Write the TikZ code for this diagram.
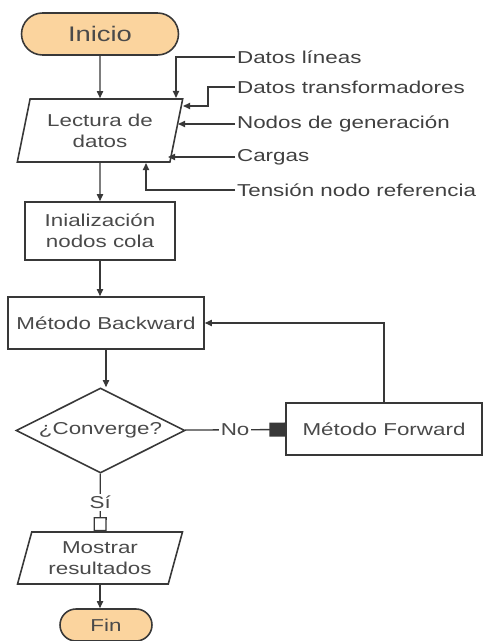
\documentclass[tikz,border=0pt]{standalone}
\usepackage{fontspec}
\setmainfont{Liberation Sans}[FakeStretch=1.3]
\usepackage{tikz}
\usetikzlibrary{shapes.geometric, arrows.meta}
\definecolor{termfill}{HTML}{FBD49E}
\definecolor{edgegray}{HTML}{383838}
\definecolor{txtgray}{HTML}{4A4A4A}

\begin{document}
\begin{tikzpicture}[x=0.02cm, y=-0.02cm, >={Triangle[length=4pt,width=3.5pt]},
                    every node/.style={text=txtgray, font=\fontsize{9.8}{12}\selectfont},
                    outline/.style={draw=edgegray, line width=0.9pt, align=center, inner sep=0mm},
                    term/.style={outline, fill=termfill},
                    io/.style={outline, trapezium, trapezium stretches=true},
                    proc/.style={outline, rectangle},
                    dec/.style={outline, diamond, aspect=2},
                    lbl/.style={anchor=west, inner sep=1pt, text=black!75},
                    arr/.style={->, draw=edgegray, line width=0.75pt}]
                      \useasboundingbox (0,0) rectangle (483,641);

                      \node[term, minimum width=3.14cm, minimum height=0.84cm, rounded corners=0.42cm, font=\fontsize{12}{14}\selectfont] (inicio) at (100,34) {Inicio};
                      \node[io, trapezium left angle=74, trapezium right angle=106, minimum width=3.32cm, minimum height=1.26cm] (lectura) at (100,130.5) {Lectura de\\datos};
                      \node[proc, minimum width=3cm, minimum height=1.16cm] (init) at (100,231) {Inialización\\nodos cola};
                      \node[proc, minimum width=3.92cm, minimum height=1.04cm] (back) at (106,323) {Método Backward};
                      \node[dec, minimum width=3.38cm, minimum height=1.7cm] (conv) at (100.5,430.5) {¿Converge?};
                      \node[proc, minimum width=3.92cm, minimum height=1.04cm] (fwd) at (384,429) {Método Forward};
                      \node[io, trapezium left angle=72, trapezium right angle=108, minimum width=3.32cm, minimum height=1.04cm] (mostrar) at (100,558) {Mostrar\\resultados};
                      \node[term, minimum width=1.84cm, minimum height=0.64cm, rounded corners=0.32cm] (fin) at (106,625) {Fin};

                      % datos de entrada
                      \node[lbl] (dlin) at (235,57) {Datos líneas};
                      \node[lbl] (dtrf) at (235,87) {Datos transformadores};
                      \node[lbl] (dgen) at (235,124) {Nodos de generación};
                      \node[lbl] (dcar) at (235,157) {Cargas};
                      \node[lbl] (dref) at (235,190) {Tensión nodo referencia};

                      \coordinate (inLin) at (176,98);
                      \coordinate (bendTrf) at (208,106);
                      \coordinate (inTrf) at (183,106);
                      \coordinate (inGen) at (178,124);
                      \coordinate (inCar) at (168,157);
                      \coordinate (inRef) at (146,163);

                      \draw[arr] (dlin.west) -| (inLin);
                      \draw[arr] (dtrf.west) -| (bendTrf) -- (inTrf);
                      \draw[arr] (dgen.west) -- (inGen);
                      \draw[arr] (dcar.west) -- (inCar);
                      \draw[arr] (dref.west) -| (inRef);

                      % flujo principal
                      \draw[arr] (inicio) -- (lectura);
                      \draw[arr] (lectura) -- (init);
                      \draw[arr] (init.south) -- (init.south |- back.north);
                      \draw[arr] (back.south) -- (back.south |- conv.north);
                      \draw[arr, -{Square[length=9pt, width=8pt]}] (conv) -- node[fill=white, inner sep=1pt] {No} (fwd);
                      \draw[arr] (fwd.north) |- (back.east);
                      \draw[arr, -{Square[open, length=8pt, width=7.5pt]}] (conv) -- node[fill=white, inner sep=1pt] {Sí} (mostrar);
                      \draw[arr] (mostrar.south) -- (mostrar.south |- fin.north);

                    \end{tikzpicture}
\end{document}
